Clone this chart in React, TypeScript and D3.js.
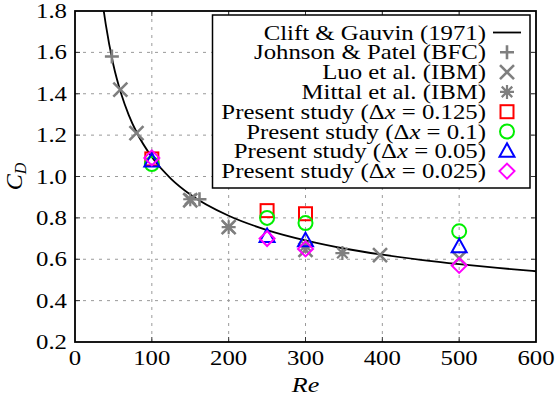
import { useEffect, useRef } from "react";
import * as d3 from "d3";

// Clift & Gauvin (1971) correlation
const curveRe = [37, 38, 40, 50, 60, 70, 80, 100, 125, 150, 200, 250, 300, 350, 400, 450, 500, 550, 600];
const curveCd = [1.811, 1.786, 1.736, 1.539, 1.401, 1.297, 1.215, 1.094, 0.989, 0.913, 0.81, 0.741, 0.691, 0.652, 0.622, 0.597, 0.576, 0.558, 0.542];

const johnsonRe = [48, 162];
const johnsonCd = [1.58, 0.89];

const luoRe = [59, 80, 150, 200, 300, 397, 500];
const luoCd = [1.42, 1.21, 0.885, 0.755, 0.645, 0.62, 0.605];

const mittalRe = [150, 200, 300, 348];
const mittalCd = [0.89, 0.755, 0.665, 0.63];

const dx0125Re = [100, 250, 300];
const dx0125Cd = [1.085, 0.835, 0.82];
const dx01Re = [100, 250, 300, 500];
const dx01Cd = [1.06, 0.8, 0.775, 0.735];
const dx005Re = [100, 250, 300, 500];
const dx005Cd = [1.075, 0.71, 0.69, 0.66];
const dx0025Re = [100, 250, 300, 500];
const dx0025Cd = [1.09, 0.7, 0.65, 0.57];

const xTicks = [0, 100, 200, 300, 400, 500, 600];
const yTicks = [0.2, 0.4, 0.6, 0.8, 1.0, 1.2, 1.4, 1.6, 1.8];

const W = 557;
const H = 396;
const FS = 21;
const SX = 1.18; // the picture is stretched sideways
const GRAY = "#7f7f7f";
const serif = { fontFamily: `"Liberation Serif"` };

type MarkerKind = "plus" | "cross" | "star" | "square" | "circle" | "triangle" | "diamond";

const Marker = ({ kind, x, y, color }: { kind: MarkerKind; x: number; y: number; color: string }) => {
  const s = 7;
  const common = { fill: "none", stroke: color, strokeWidth: 2 };
  switch (kind) {
    case "plus":
      return <path d={`M${x - s},${y}H${x + s}M${x},${y - s}V${y + s}`} {...common} strokeWidth={2.6} />;
    case "cross":
      return <path d={`M${x - s},${y - s}L${x + s},${y + s}M${x - s},${y + s}L${x + s},${y - s}`} {...common} strokeWidth={2.6} />;
    case "star":
      return (
        <path
          d={`M${x - s},${y}H${x + s}M${x},${y - s}V${y + s}M${x - s * 0.75},${y - s * 0.75}L${x + s * 0.75},${y + s * 0.75}M${x - s * 0.75},${y + s * 0.75}L${x + s * 0.75},${y - s * 0.75}`}
          {...common}
          strokeWidth={2.2}
        />
      );
    case "square":
      return <rect x={x - 6.5} y={y - 6.5} width={13} height={13} {...common} />;
    case "circle":
      return <circle cx={x} cy={y} r={7} {...common} />;
    case "triangle":
      return <path d={`M${x},${y - 8}L${x + 7.5},${y + 5.5}L${x - 7.5},${y + 5.5}Z`} {...common} />;
    case "diamond":
      return <path d={`M${x},${y - 7.5}L${x + 7.5},${y}L${x},${y + 7.5}L${x - 7.5},${y}Z`} {...common} />;
  }
};

const series: { kind: MarkerKind; color: string; re: number[]; cd: number[] }[] = [
  { kind: "plus", color: GRAY, re: johnsonRe, cd: johnsonCd },
  { kind: "cross", color: GRAY, re: luoRe, cd: luoCd },
  { kind: "star", color: GRAY, re: mittalRe, cd: mittalCd },
  { kind: "square", color: "#ff0000", re: dx0125Re, cd: dx0125Cd },
  { kind: "circle", color: "#00ee00", re: dx01Re, cd: dx01Cd },
  { kind: "triangle", color: "#0000ff", re: dx005Re, cd: dx005Cd },
  { kind: "diamond", color: "#ff00ff", re: dx0025Re, cd: dx0025Cd },
];

const legendLabels: { pre: string; dx?: string }[] = [
  { pre: "Clift & Gauvin (1971)" },
  { pre: "Johnson & Patel (BFC)" },
  { pre: "Luo et al. (IBM)" },
  { pre: "Mittal et al. (IBM)" },
  { pre: "Present study (", dx: "0.125" },
  { pre: "Present study (", dx: "0.1" },
  { pre: "Present study (", dx: "0.05" },
  { pre: "Present study (", dx: "0.025" },
];

const App = () => {
  const svgRef = useRef<SVGSVGElement | null>(null);

  const x = d3.scaleLinear().domain([0, 600]).range([75, 536]);
  const y = d3.scaleLinear().domain([0.2, 1.8]).range([342, 11]);
  const [x0, x1] = x.range();
  const [y0, y1] = y.range();

  const line = d3
    .line<number>()
    .x((_, i) => x(curveRe[i]))
    .y((d) => y(d))
    .curve(d3.curveMonotoneX);

  // widen text glyphs to match the stretched original
  useEffect(() => {
    if (!svgRef.current) return;
    d3.select(svgRef.current)
      .selectAll<SVGTextElement, unknown>("text.wide")
      .each(function () {
        const len = this.getComputedTextLength();
        this.setAttribute("textLength", String(len * SX));
        this.setAttribute("lengthAdjust", "spacingAndGlyphs");
      });
  }, []);

  const legX = 486;
  const legRow0 = 32.5;
  const legStep = 19.8;
  const markX = 507;

  return (
    <div style={{ position: "fixed", left: 0, top: 0 }}>
      <svg ref={svgRef} width={W} height={H} style={{ display: "block", background: "#fff" }}>
        <defs>
          <clipPath id="plot">
            <rect x={x0} y={y1} width={x1 - x0} height={y0 - y1} />
          </clipPath>
        </defs>

        {/* grid */}
        {xTicks.slice(1, -1).map((t) => (
          <line key={"gx" + t} x1={x(t)} x2={x(t)} y1={y0} y2={y1} stroke="#9a9a9a" strokeWidth={1} strokeDasharray="3,5" />
        ))}
        {yTicks.slice(1, -1).map((t) => (
          <line key={"gy" + t} x1={x0} x2={x1} y1={y(t)} y2={y(t)} stroke="#9a9a9a" strokeWidth={1} strokeDasharray="3,5" />
        ))}

        {/* tick marks, mirrored */}
        {xTicks.slice(1, -1).map((t) => (
          <g key={"tx" + t} stroke="#333" strokeWidth={1}>
            <line x1={x(t)} x2={x(t)} y1={y0} y2={y0 - 5} />
            <line x1={x(t)} x2={x(t)} y1={y1} y2={y1 + 5} />
          </g>
        ))}
        {yTicks.slice(1, -1).map((t) => (
          <g key={"ty" + t} stroke="#333" strokeWidth={1}>
            <line x1={x0} x2={x0 + 5} y1={y(t)} y2={y(t)} />
            <line x1={x1} x2={x1 - 5} y1={y(t)} y2={y(t)} />
          </g>
        ))}

        {/* curve */}
        <path d={line(curveCd) || ""} fill="none" stroke="#000" strokeWidth={1.8} clipPath="url(#plot)" />

        {/* markers */}
        {series.map((s) =>
          s.re.map((re, i) => <Marker key={s.kind + i} kind={s.kind} x={x(re)} y={y(s.cd[i])} color={s.color} />)
        )}

        {/* legend */}
        <rect x={212.5} y={15} width={317.5} height={173} fill="#fff" stroke="#000" strokeWidth={1.5} />
        {legendLabels.map((l, i) => {
          const cy = legRow0 + i * legStep;
          return (
            <g key={"leg" + i}>
              <text className="wide" x={legX} y={cy + 7} textAnchor="end" fontSize={FS} fill="#000" style={serif}>
                {l.dx === undefined ? (
                  l.pre
                ) : (
                  <>
                    {l.pre}Δ<tspan fontStyle="italic">x</tspan> = {l.dx})
                  </>
                )}
              </text>
              {i === 0 ? (
                <line x1={493} x2={521} y1={cy} y2={cy} stroke="#000" strokeWidth={1.8} />
              ) : (
                <Marker kind={series[i - 1].kind} x={markX} y={cy} color={series[i - 1].color} />
              )}
            </g>
          );
        })}

        {/* frame */}
        <rect x={x0} y={y1} width={x1 - x0} height={y0 - y1} fill="none" stroke="#000" strokeWidth={1.8} />

        {/* tick labels */}
        {xTicks.map((t) => (
          <text key={"lx" + t} className="wide" x={x(t)} y={y0 + 23} textAnchor="middle" fontSize={FS} fill="#000" style={serif}>
            {t}
          </text>
        ))}
        {yTicks.map((t) => (
          <text key={"ly" + t} className="wide" x={x0 - 8} y={y(t) + 7} textAnchor="end" fontSize={FS} fill="#000" style={serif}>
            {t.toFixed(1)}
          </text>
        ))}

        {/* axis titles */}
        <text
          className="wide"
          x={x((x.domain()[0] + x.domain()[1]) / 2)}
          y={H - 4}
          textAnchor="middle"
          fontSize={22}
          fontStyle="italic"
          fill="#000"
          style={serif}
        >
          Re
        </text>
        <text
          transform={`translate(22,${(y0 + y1) / 2}) rotate(-90)`}
          textAnchor="middle"
          fontSize={24}
          fontStyle="italic"
          fill="#000"
          style={serif}
        >
          C
          <tspan fontSize={16} dy={4}>
            D
          </tspan>
        </text>
      </svg>
    </div>
  );
};

export default App;
